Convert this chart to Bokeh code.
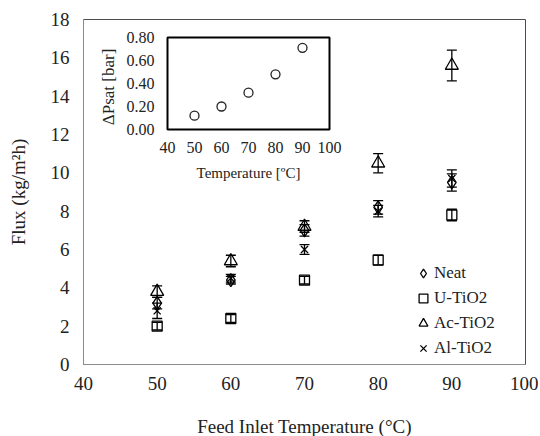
from bokeh.plotting import figure
from bokeh.models import Range1d, FixedTicker, Legend, LegendItem
from bokeh.core.properties import value
from bokeh.embed import file_html
from bokeh.resources import INLINE
import math

# ---- data ----
temps = [50, 60, 70, 80, 90]
neat = [3.2, 4.4, 7.0, 8.2, 9.5]
neat_err = [0.3, 0.2, 0.3, 0.35, 0.45]
u_tio2 = [2.0, 2.4, 4.4, 5.45, 7.8]
u_err = [0.2, 0.2, 0.2, 0.25, 0.3]
ac_tio2 = [3.8, 5.4, 7.2, 10.5, 15.6]
ac_err = [0.3, 0.3, 0.3, 0.5, 0.8]
al_tio2 = [2.8, 4.5, 6.0, 8.0, 9.7]
al_err = [0.4, 0.2, 0.25, 0.3, 0.45]
series_names = ["Neat", "U-TiO2", "Ac-TiO2", "Al-TiO2"]

inset_temps = [50, 60, 70, 80, 90]
dpsat = [0.12, 0.20, 0.32, 0.48, 0.71]
main_xticks = [40, 50, 60, 70, 80, 90, 100]
main_yticks = [0, 2, 4, 6, 8, 10, 12, 14, 16, 18]
inset_xticks = [40, 50, 60, 70, 80, 90, 100]
inset_yticks = [0.0, 0.2, 0.4, 0.6, 0.8]
inset_ytick_labels = ["0.00", "0.20", "0.40", "0.60", "0.80"]

FONT = "Liberation Serif"
TXT = "#222222"

FW, FH = 442, 345
p = figure(frame_width=FW, frame_height=FH, x_range=Range1d(40, 100), y_range=Range1d(0, 18),
           output_backend="svg", toolbar_location=None,
           min_border_left=83, min_border_right=13, min_border_top=19, min_border_bottom=70)
p.grid.visible = False
p.outline_line_color = "#4d4d4d"
p.outline_line_width = 1
p.background_fill_color = "white"

for ax in (p.xaxis[0], p.yaxis[0]):
    ax.axis_line_color = "#8c8c8c"
    ax.major_tick_out = 0
    ax.major_tick_in = 0
    ax.minor_tick_out = 0
    ax.minor_tick_in = 0
    ax.major_label_text_font = FONT
    ax.major_label_text_font_size = "19px"
    ax.major_label_text_color = TXT
    ax.axis_label_text_font = FONT
    ax.axis_label_text_font_size = "19px"
    ax.axis_label_text_font_style = "normal"
    ax.axis_label_text_color = TXT

p.xaxis.ticker = FixedTicker(ticks=main_xticks)
p.yaxis.ticker = FixedTicker(ticks=main_yticks)
p.xaxis.axis_label = "Feed Inlet Temperature (°C)"
p.yaxis.axis_label = "Flux (kg/m²h)"
p.xaxis.major_label_standoff = 12
p.xaxis.axis_label_standoff = 23
p.yaxis.major_label_standoff = 14
p.yaxis.axis_label_standoff = 19

# ---- error bars + markers ----
series = [
    (neat, neat_err, "diamond", 13),
    (u_tio2, u_err, "square", 10),
    (ac_tio2, ac_err, "triangle", 13),
    (al_tio2, al_err, "x", 10),
]
renderers = []
for vals, errs, marker, size in series:
    lo = [v - e for v, e in zip(vals, errs)]
    hi = [v + e for v, e in zip(vals, errs)]
    p.segment(x0=temps, y0=lo, x1=temps, y1=hi, line_color="black", line_width=1.3)
    p.scatter(x=temps + temps, y=lo + hi, marker="dash", size=10, line_color="black", line_width=1.3)
    r = p.scatter(x=temps, y=vals, marker=marker, size=size, fill_color=None,
                  line_color="black", line_width=1.3)
    renderers.append(r)

legend = Legend(items=[LegendItem(label=n, renderers=[r]) for n, r in zip(series_names, renderers)],
                location=(329, 5), glyph_width=22, glyph_height=22, label_height=22,
                spacing=3, label_standoff=0, padding=0, margin=0,
                border_line_color=None, background_fill_alpha=0,
                label_text_font=FONT, label_text_font_size="17px", label_text_color=TXT)
p.add_layout(legend, "center")

# ---- inset via extra ranges ----
IL, IR, IT, IB = 84, 246, 18, 110  # inset box in frame pixels (from frame left/top)
xs_per_px = (100 - 40) / (IR - IL)
x_start = 40 - IL * xs_per_px
x_end = x_start + FW * xs_per_px
ys_per_px = 0.8 / (IB - IT)
y_start = 0 - (FH - IB) * ys_per_px
y_end = y_start + FH * ys_per_px
p.extra_x_ranges = {"ix": Range1d(x_start, x_end)}
p.extra_y_ranges = {"iy": Range1d(y_start, y_end)}

p.quad(left=[40], right=[100], bottom=[0], top=[0.8], x_range_name="ix", y_range_name="iy",
       fill_color="white", line_color="black", line_width=2)
p.scatter(x=inset_temps, y=dpsat, x_range_name="ix", y_range_name="iy", marker="circle",
          size=9, fill_color=None, line_color="#222222", line_width=1.3)
p.text(x=inset_xticks, y=[0] * len(inset_xticks), text=[str(t) for t in inset_xticks],
       x_range_name="ix", y_range_name="iy", text_align="center", text_baseline="middle",
       y_offset=18, text_font=value(FONT), text_font_size="16px", text_color=TXT)
p.text(x=[40] * len(inset_yticks), y=inset_yticks, text=inset_ytick_labels,
       x_range_name="ix", y_range_name="iy", text_align="right", text_baseline="middle",
       x_offset=-13, text_font=value(FONT), text_font_size="16px", text_color=TXT)
p.text(x=[70], y=[0], text=["Temperature [ºC]"], x_range_name="ix", y_range_name="iy",
       text_align="center", text_baseline="middle", y_offset=43,
       text_font=value(FONT), text_font_size="15px", text_color=TXT)
p.text(x=[40], y=[0.37], text=["ΔPsat [bar]"], x_range_name="ix", y_range_name="iy",
       text_align="center", text_baseline="middle", x_offset=-59, angle=math.pi / 2,
       text_font=value(FONT), text_font_size="17px", text_color=TXT)

open("out.html", "w").write(file_html(p, INLINE))
